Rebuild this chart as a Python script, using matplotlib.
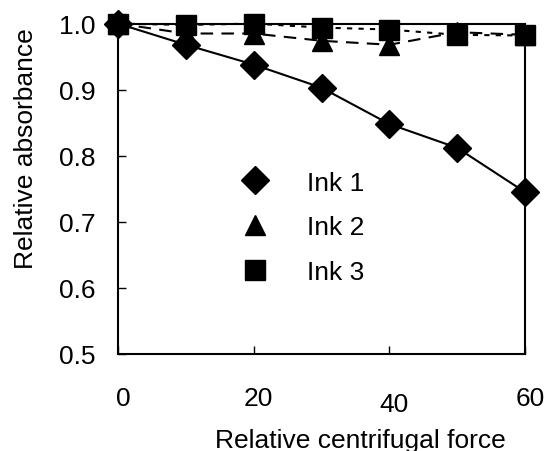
import matplotlib
matplotlib.use("Agg")
import matplotlib.pyplot as plt
from matplotlib.lines import Line2D
from matplotlib.transforms import ScaledTranslation

plt.rcParams['font.family'] = ['Liberation Sans', 'DejaVu Sans']

force = [0, 10, 20, 30, 40, 50, 60]
ink1 = [1.0, 0.968, 0.938, 0.903, 0.848, 0.812, 0.745]
ink2 = [1.0, 0.985, 0.985, 0.974, 0.968, 0.987, 0.983]
ink3 = [1.0, 0.998, 1.0, 0.994, 0.991, 0.983, 0.982]
labels = ["Ink 1", "Ink 2", "Ink 3"]
xticks = [0, 20, 40, 60]
yticks = [0.5, 0.6, 0.7, 0.8, 0.9, 1.0]

FS = 19
fig = plt.figure(figsize=(5.47, 4.52), dpi=100)
ax = fig.add_axes([118/547, 1 - 355/452, (525-118)/547, (355-24.6)/452])

ax.plot(force, ink1, color='black', lw=1.5, marker='D', ms=14, clip_on=False, zorder=3)
ax.plot(force, ink2, color='black', lw=1.5, dashes=(6, 4), marker='^', ms=15, clip_on=False, zorder=4)
ax.plot(force, ink3, color='black', lw=1.5, dashes=(2.5, 3), marker='s', ms=15, clip_on=False, zorder=5)

ax.set_xlim(0, 60)
ax.set_ylim(0.5, 1.0)
ax.set_xticks(xticks)
ax.set_yticks(yticks)
ax.set_yticklabels([f"{v:.1f}" for v in yticks])
ax.tick_params(axis='x', direction='in', length=6, width=1, labelsize=FS, pad=23)
ax.tick_params(axis='y', direction='in', length=6, width=1, labelsize=FS, pad=16)
for sp in ax.spines.values():
    sp.set_linewidth(1.5)

# small offsets of x tick labels as in the reference
for val, lab in zip(xticks, ax.get_xticklabels()):
    dy = -0.06 if val == 40 else 0.0
    lab.set_transform(lab.get_transform() + ScaledTranslation(0.05, dy, fig.dpi_scale_trans))

ax.set_xlabel("Relative centrifugal force", fontsize=FS)
ax.xaxis.set_label_coords(0.595, -0.26)
ax.xaxis.label.set_va('center')
ax.set_ylabel("Relative absorbance", fontsize=FS)
ax.yaxis.set_label_coords(-0.226, 0.625)
ax.yaxis.label.set_va('center')

handles = [Line2D([], [], color='black', marker=m, ms=s, ls='none')
           for m, s in zip(['D', '^', 's'], [14, 15, 15])]
ax.legend(handles, labels, loc='upper left', bbox_to_anchor=(0.272, 0.555),
          frameon=False, fontsize=FS, handlelength=2, handletextpad=0.97,
          labelspacing=0.78, borderpad=0, borderaxespad=0)

fig.savefig("out.png", dpi=100)
